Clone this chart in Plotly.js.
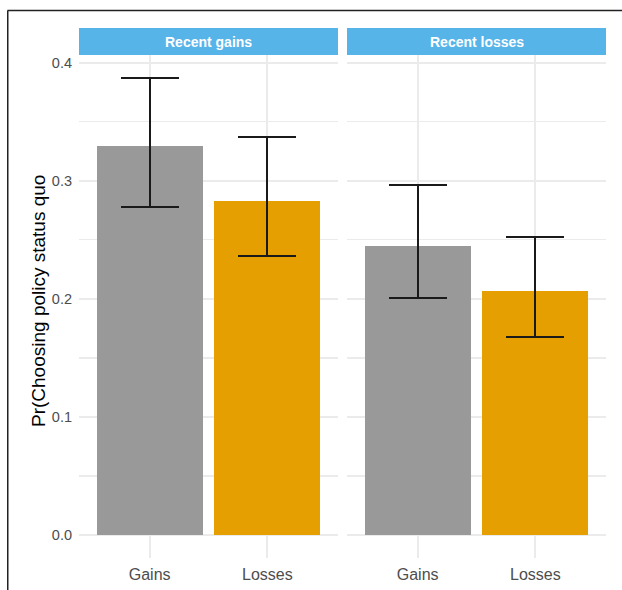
<!DOCTYPE html>
<html>
<head>
<meta charset="utf-8">
<script src="https://cdn.plot.ly/plotly-3.0.1.min.js"></script>
<style>
  html, body { margin: 0; padding: 0; background: #ffffff; }
  #chart { width: 622px; height: 590px; }
</style>
</head>
<body>
<div id="chart"></div>
<script>
// Facet panels and the two outcome categories inside each
const panels = ['Recent gains', 'Recent losses'];
const categories = ['Gains', 'Losses'];

// Estimated probability of choosing the policy status quo, per panel
const estGains  = [0.329, 0.283];   // Recent gains panel: Gains, Losses
const estLosses = [0.245, 0.207];   // Recent losses panel: Gains, Losses

// 95% interval bounds, per panel
const lowerGains  = [0.278, 0.236];
const upperGains  = [0.387, 0.337];
const lowerLosses = [0.201, 0.168];
const upperLosses = [0.296, 0.252];

const yTicks = [0, 0.1, 0.2, 0.3, 0.4];
const yTitle = 'Pr(Choosing policy status quo';

const barColors = ['#999999', '#E69F00'];
const stripColor = '#56B4E9';
const gridColor = '#EBEBEB';
const tickColor = '#4D4D4D';
const FONT = 'Liberation Sans, Arial, sans-serif';

function panelTrace(est, lo, hi, xa) {
  return {
    type: 'bar',
    x: categories,
    y: est,
    xaxis: xa,
    yaxis: 'y',
    width: 0.9,
    marker: { color: barColors, line: { width: 0 } },
    error_y: {
      type: 'data',
      symmetric: false,
      array: est.map((v, i) => hi[i] - v),
      arrayminus: est.map((v, i) => v - lo[i]),
      color: '#1a1a1a',
      thickness: 2,
      width: 29
    },
    hoverinfo: 'x+y',
    showlegend: false
  };
}

const data = [
  panelTrace(estGains, lowerGains, upperGains, 'x'),
  panelTrace(estLosses, lowerLosses, upperLosses, 'x2')
];

// Pixel geometry of the figure
const W = 622, H = 590;
const mL = 79, mR = 16, mT = 55, mB = 32;
const pw = W - mL - mR, ph = H - mT - mB;
const px = (x) => (x - mL) / pw;          // page x -> paper x
const py = (y) => (H - mB - y) / ph;      // page y -> paper y

const xCommon = {
  type: 'category',
  range: [-0.6, 1.6],
  showgrid: true,
  gridcolor: gridColor,
  gridwidth: 2,
  zeroline: false,
  showline: false,
  ticks: '',
  ticklabelstandoff: 5,
  tickfont: { family: FONT, size: 16, color: tickColor },
  fixedrange: true
};

const layout = {
  width: W,
  height: H,
  margin: { l: mL, r: mR, t: mT, b: mB, pad: 0 },
  paper_bgcolor: '#ffffff',
  plot_bgcolor: '#ffffff',
  bargap: 0,
  font: { family: FONT, color: tickColor },
  xaxis: Object.assign({}, xCommon, { domain: [0, 259 / pw], anchor: 'y' }),
  xaxis2: Object.assign({}, xCommon, { domain: [268 / pw, 1], anchor: 'y' }),
  yaxis: {
    range: [-0.0195, 0.4064],
    tickvals: yTicks,
    ticktext: yTicks.map(v => v.toFixed(1)),
    showgrid: true,
    gridcolor: gridColor,
    gridwidth: 2,
    minor: { dtick: 0.05, tick0: 0, showgrid: true, gridcolor: gridColor, gridwidth: 1.5 },
    zeroline: false,
    showline: false,
    ticks: '',
    ticklabelstandoff: 6,
    tickfont: { family: FONT, size: 14.5, color: tickColor },
    fixedrange: true
  },
  shapes: [
    // facet strips
    { type: 'rect', xref: 'x domain', yref: 'paper', x0: 0, x1: 1, y0: 1, y1: py(28),
      fillcolor: stripColor, line: { width: 0 }, layer: 'below' },
    { type: 'rect', xref: 'x2 domain', yref: 'paper', x0: 0, x1: 1, y0: 1, y1: py(28),
      fillcolor: stripColor, line: { width: 0 }, layer: 'below' },
    // frame lines along the top and left of the figure
    { type: 'line', xref: 'paper', yref: 'paper', x0: px(7.5), x1: px(640), y0: py(10.5), y1: py(10.5),
      line: { color: '#222222', width: 1.5 } },
    { type: 'line', xref: 'paper', yref: 'paper', x0: px(7.75), x1: px(7.75), y0: py(10.5), y1: py(620),
      line: { color: '#222222', width: 1.5 } }
  ],
  annotations: [
    { text: '<b>' + panels[0] + '</b>', xref: 'x domain', yref: 'paper', x: 0.5, y: py(41.5),
      xanchor: 'center', yanchor: 'middle', showarrow: false,
      font: { family: FONT, size: 14, color: '#ffffff' } },
    { text: '<b>' + panels[1] + '</b>', xref: 'x2 domain', yref: 'paper', x: 0.5, y: py(41.5),
      xanchor: 'center', yanchor: 'middle', showarrow: false,
      font: { family: FONT, size: 14, color: '#ffffff' } },
    { text: yTitle, xref: 'paper', yref: 'paper', x: px(38), y: py(301),
      xanchor: 'center', yanchor: 'middle', textangle: -90, showarrow: false,
      font: { family: FONT, size: 19, color: '#000000' } }
  ]
};

Plotly.newPlot('chart', data, layout, { displayModeBar: false, staticPlot: true });
</script>
</body>
</html>
